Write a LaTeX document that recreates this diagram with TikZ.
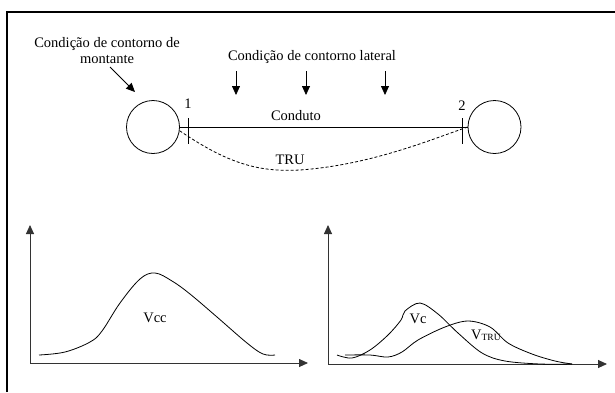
\documentclass[tikz,border=0pt]{standalone}
\usepackage{fontspec}
\setmainfont{Liberation Serif}
\usetikzlibrary{arrows.meta}
\begin{document}
\begin{tikzpicture}[x=1pt,y=-1pt,
  lbl/.style={font=\fontsize{14.5}{15.5}\selectfont, inner sep=0pt, align=center},
  tri/.style={-{Triangle[length=9pt,width=8pt]}},
  thin line/.style={line width=0.8pt},
  axis/.style={line width=0.9pt, draw=black!80, tri},
  curve/.style={line width=0.8pt},
  bdry/.style={circle, draw, line width=0.8pt, minimum size=53pt, inner sep=0pt}]
\useasboundingbox (0,0) rectangle (615,392);
% frame
\draw[line width=2pt] (7,392) -- (7,12) -- (615,12);

% top part
\node[lbl] (mont) at (107,50.5) {Condição de contorno de\\montante};
\node[lbl] (lat) at (312,57) {Condição de contorno lateral};
\node[bdry] (c1) at (153,127) {};
\node[bdry] (c2) at (494.5,127) {};
\coordinate (a0) at (110,67);
\coordinate (a1) at (135,92);
\draw[thin line, tri] (a0) -- (a1);
\foreach \x/\n in {236/l1,306/l2,385/l3}{
  \coordinate (\n s) at (\x,71);
  \coordinate (\n e) at (\x,95);
  \draw[thin line, tri] (\n s) -- (\n e);
}
\coordinate (t1a) at (188,118); \coordinate (t1b) at (188,144);
\coordinate (t2a) at (462.5,118); \coordinate (t2b) at (462.5,144);
\draw[thin line] (t1a) -- (t1b);
\draw[thin line] (t2a) -- (t2b);
\node[lbl] (n1) at (188,104) {1};
\node[lbl] (n2) at (462,106) {2};
\draw[thin line] (c1.east) -- (c2.west);
\node[lbl] (cond) at (296,116) {Conduto};
\draw[thin line, dash pattern=on 3pt off 2pt]
  (c1.-8) .. controls (230,165) and (260,172) .. (300,170)
  .. controls (370,165) and (430,140) .. (c2.west);
\node[lbl] (tru) at (290,160) {TRU};

% bottom left plot
\coordinate (o1) at (30,363);
\coordinate (y1) at (30,225);
\coordinate (x1) at (308,363);
\draw[axis] (o1) -- (y1);
\draw[axis] (o1) -- (x1);
\draw[curve] plot[smooth, tension=0.6] coordinates {(39,355) (65,352) (90,342) (102,331) (120,303) (140,279) (155,273) (172,281) (190,294) (217,317) (247,343) (263,354) (275,355)};
\node[lbl] (vcc) at (155,318) {Vcc};

% bottom right plot
\coordinate (o2) at (328,364);
\coordinate (y2) at (328,225);
\coordinate (x2) at (607,364);
\draw[axis] (o2) -- (y2);
\draw[axis] (o2) -- (x2);
\draw[curve] plot[smooth, tension=0.55] coordinates {(337,355) (352,358) (370,350) (388,335) (401,320) (405,311) (420,303) (438,314) (458,333) (482,353) (505,361) (540,364) (572,364)};
\draw[curve] plot[smooth, tension=0.55] coordinates {(345,355) (370,355) (388,357) (402,352) (418,340) (445,327) (468,321) (490,327) (508,343) (532,354) (555,361) (572,364)};
\node[lbl] (vc) at (418,319) {Vc};
\node[lbl, anchor=base west] (vtru) at (471,339) {V\raisebox{-1pt}{\fontsize{9.5}{9.5}\selectfont TRU}};
\end{tikzpicture}
\end{document}
